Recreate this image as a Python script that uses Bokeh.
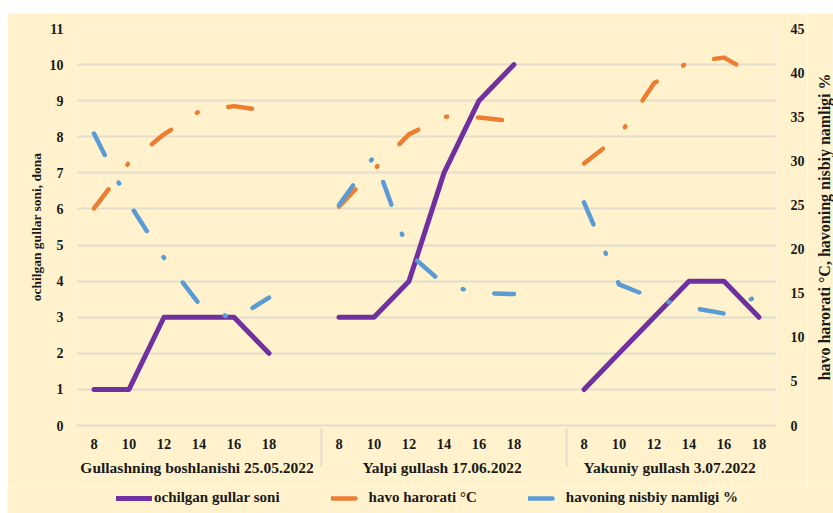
from bokeh.plotting import figure
from bokeh.models import (FactorRange, Range1d, LinearAxis, FixedTicker, Legend,
                          LegendItem, Spacer)
from bokeh.layouts import column, row
from bokeh.embed import file_html
from bokeh.resources import INLINE

# ---------------- data ----------------
groups = ["Gullashning boshlanishi  25.05.2022",
          "Yalpi gullash  17.06.2022",
          "Yakuniy gullash  3.07.2022"]
hours = ["8", "10", "12", "14", "16", "18"]

flowers = [1, 1, 3, 3, 3, 2,
           3, 3, 4, 7, 9, 10,
           1, 2, 3, 4, 4, 3]
temperature = [24.6, 29.8, 33.0, 35.6, 36.2, 35.6,
               24.8, 29.0, 33.0, 35.0, 34.9, 34.5,
               29.7, 32.8, 38.8, 41.2, 41.7, 39.5]
humidity = [33.1, 25.2, 19.0, 13.8, 12.0, 14.5,
            25.0, 30.5, 19.5, 16.0, 15.0, 14.9,
            25.3, 16.0, 14.4, 13.4, 12.7, 14.8]

left_ticks = list(range(0, 12))
right_ticks = list(range(0, 50, 5))
series_names = ["ochilgan gullar soni", "havo harorati °C", "havoning nisbiy namligi %"]
left_title = "ochilgan gullar soni, dona"
right_title = "havo harorati °C, havoning nisbiy namligi %"

# ---------------- style ----------------
CREAM = "#FFF2CC"
GRID = "#E2DDCD"
PURPLE = "#7030A0"
ORANGE = "#ED7D31"
BLUE = "#5B9BD5"
FONT = "Liberation Serif"
INK = "#1a1a1a"
DASH = "24 31 1 31"

factors = []
for i, g in enumerate(groups):
    factors += [(g, h) for h in hours]
    if i < len(groups) - 1:
        factors.append((g, " "))

p = figure(x_range=FactorRange(*factors, group_padding=0, factor_padding=0,
                               subgroup_padding=0, range_padding=0),
           y_range=Range1d(0, 11),
           width=800, height=474,
           output_backend="svg", toolbar_location=None,
           min_border_left=69, min_border_right=24,
           min_border_top=15, min_border_bottom=62,
           background_fill_color=CREAM, border_fill_color=CREAM,
           outline_line_color=None)

p.extra_y_ranges = {"r": Range1d(0, 45)}

# grid
p.xgrid.grid_line_color = None
p.ygrid.ticker = FixedTicker(ticks=left_ticks)
p.ygrid.grid_line_color = GRID
p.ygrid.grid_line_width = 2

# left axis
ly = p.yaxis[0]
ly.ticker = FixedTicker(ticks=left_ticks)
ly.axis_label = left_title
ly.axis_line_color = None
ly.major_tick_line_color = None
ly.minor_tick_line_color = None
ly.major_label_standoff = 7
ly.axis_label_standoff = 3
ly.major_label_text_font = FONT
ly.major_label_text_font_style = "bold"
ly.major_label_text_font_size = "14px"
ly.major_label_text_color = INK
ly.axis_label_text_font = FONT
ly.axis_label_text_font_style = "bold"
ly.axis_label_text_font_size = "13.5px"
ly.axis_label_text_color = INK

# right axis (ticks); its title is drawn by the strip figure on the right
ry = LinearAxis(y_range_name="r", ticker=FixedTicker(ticks=right_ticks))
ry.axis_line_color = None
ry.major_tick_line_color = None
ry.minor_tick_line_color = None
ry.major_label_standoff = 8
ry.major_label_text_font = FONT
ry.major_label_text_font_style = "bold"
ry.major_label_text_font_size = "14px"
ry.major_label_text_color = INK
p.add_layout(ry, "right")

# category axis
xa = p.xaxis[0]
xa.axis_line_color = GRID
xa.axis_line_width = 2
xa.major_tick_line_color = None
xa.minor_tick_line_color = None
xa.major_label_standoff = 4
xa.major_label_text_font = FONT
xa.major_label_text_font_style = "bold"
xa.major_label_text_font_size = "14.5px"
xa.major_label_text_color = INK
xa.group_text_font = FONT
xa.group_text_font_style = "bold"
xa.group_text_font_size = "15.5px"
xa.group_text_color = INK
if "separator_line_color" in xa.properties():
    xa.separator_line_color = GRID
    xa.separator_line_width = 2

# ---------------- series ----------------
n = len(hours)
for gi, g in enumerate(groups):
    xs = [(g, h) for h in hours]
    sl = slice(gi * n, (gi + 1) * n)
    p.line(xs, flowers[sl], line_color=PURPLE, line_width=5,
           line_cap="round", line_join="round")
    p.line(xs, temperature[sl], y_range_name="r", line_color=ORANGE,
           line_width=4.5, line_dash=DASH, line_cap="round", line_join="round")
    p.line(xs, humidity[sl], y_range_name="r", line_color=BLUE,
           line_width=4.5, line_dash=DASH, line_cap="round", line_join="round")

# ---------------- right title strip (reads bottom-to-top) ----------------
rt = figure(width=26, height=474, x_range=Range1d(0, 1), y_range=Range1d(0, 45),
            x_axis_type=None, output_backend="svg", toolbar_location=None,
            min_border_left=25, min_border_right=0,
            min_border_top=15, min_border_bottom=62,
            background_fill_color=CREAM, border_fill_color=CREAM,
            outline_line_color=None)
rt.xgrid.grid_line_color = None
rt.ygrid.grid_line_color = None
ta = rt.yaxis[0]
ta.ticker = FixedTicker(ticks=[])
ta.axis_label = right_title
ta.axis_line_color = None
ta.major_tick_line_color = None
ta.minor_tick_line_color = None
ta.major_label_standoff = 0
ta.major_tick_out = 0
ta.axis_label_standoff = 0
ta.axis_label_text_font = FONT
ta.axis_label_text_font_style = "bold"
ta.axis_label_text_font_size = "16px"
ta.axis_label_text_color = INK

# ---------------- legend strip ----------------
lg = figure(width=826, height=26, x_range=Range1d(0, 1), y_range=Range1d(0, 1),
            x_axis_type=None, y_axis_type=None,
            output_backend="svg", toolbar_location=None,
            min_border=0, min_border_left=0, min_border_right=0,
            min_border_top=0, min_border_bottom=0,
            background_fill_color=CREAM, border_fill_color=CREAM,
            outline_line_color=None)
lg.xgrid.grid_line_color = None
lg.ygrid.grid_line_color = None
# keys for the legend: drawn off the strip's range so only the legend shows them
k1 = lg.line([0, 1], [5, 5], line_color=PURPLE, line_width=5, line_cap="round")
k2 = lg.line([0, 1], [5, 5], line_color=ORANGE, line_width=4.5, line_dash=DASH,
             line_cap="round")
k3 = lg.line([0, 1], [5, 5], line_color=BLUE, line_width=4.5, line_dash=DASH,
             line_cap="round")
legend = Legend(items=[LegendItem(label=series_names[0], renderers=[k1]),
                       LegendItem(label=series_names[1], renderers=[k2]),
                       LegendItem(label=series_names[2], renderers=[k3])],
                orientation="horizontal", location=(109, 7),
                glyph_width=36, glyph_height=16, label_standoff=2, spacing=51,
                padding=0, margin=0,
                background_fill_alpha=0, border_line_alpha=0,
                label_text_font=FONT, label_text_font_style="bold",
                label_text_font_size="15px", label_text_color=INK)
lg.add_layout(legend)

page = column(Spacer(width=833, height=13),
              row(Spacer(width=7, height=500),
                  column(row(p, rt), lg)))
open("out.html", "w").write(file_html(page, INLINE))
